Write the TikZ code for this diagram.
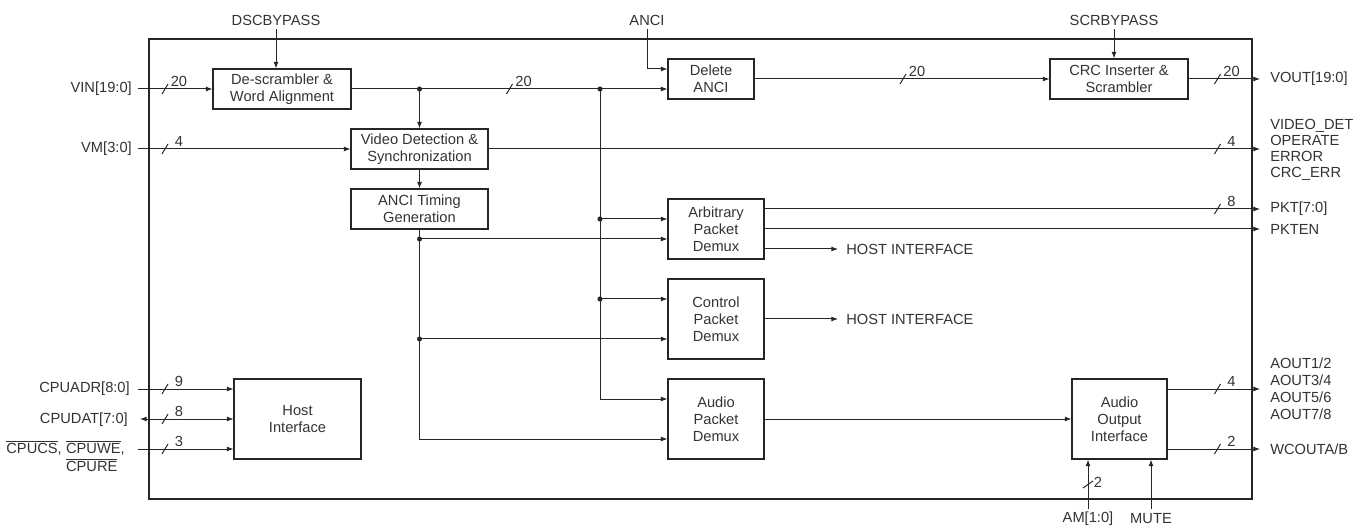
\documentclass[tikz,border=0pt]{standalone}
\usepackage{fontspec}
\setmainfont{Liberation Sans}
\usetikzlibrary{arrows.meta}
\newcommand\busw[4]{%
  \draw[wire] (#1-3,#2+5) -- (#1+3,#2-5);
  \node[lbl] (#4) at (#1+14,#2-8) {#3};}
\begin{document}
\begin{tikzpicture}[x=0.75pt,y=-0.75pt,
  lbl/.style={font=\fontsize{11}{12.75}\selectfont, text=black!80, inner sep=0pt},
  blk/.style 2 args={draw=black!85, line width=0.8pt, lbl, align=center,
    minimum width=#1*0.75pt, minimum height=#2*0.75pt},
  wire/.style={draw=black!85, line width=0.75pt},
  arr/.style={wire, -{Latex[length=5pt,width=3.8pt]}},
  darr/.style={wire, {Latex[length=5pt,width=3.8pt]}-{Latex[length=5pt,width=3.8pt]}},
  dot/.style={circle, fill=black!85, inner sep=0pt, minimum size=3.8pt},
]
\useasboundingbox (0,0) rectangle (1364,527);

% outer chip
\node[draw=black!85, line width=1pt, inner sep=0pt,
  minimum width=1103*0.75pt, minimum height=460*0.75pt] (chip) at (700.5,269) {};

% blocks
\node[blk={138}{40}] (desc) at (282,89) {De-scrambler \&\\Word Alignment};
\node[blk={137}{40}] (vdet) at (419.5,149) {Video Detection \&\\Synchronization};
\node[blk={137}{40}] (anci) at (419.5,209) {ANCI Timing\\Generation};
\node[blk={86}{40}] (del) at (711,79) {Delete\\ANCI};
\node[blk={138}{40}] (crc) at (1119,79) {CRC Inserter \&\\Scrambler};
\node[blk={96}{60}] (arb) at (716,229) {Arbitrary\\Packet\\Demux};
\node[blk={96}{80}] (ctl) at (716,319) {Control\\Packet\\Demux};
\node[blk={96}{80}] (aud) at (716,419) {Audio\\Packet\\Demux};
\node[blk={95}{80}] (aoi) at (1119.5,419) {Audio\\Output\\Interface};
\node[blk={127}{80}] (host) at (297.5,419) {Host\\Interface};

% external coordinates
\coordinate (vin) at (138,89);
\coordinate (vm) at (138,149);
\coordinate (dsc) at (276,29);
\coordinate (anc) at (647,29);
\coordinate (scr) at (1114,29);
\coordinate (vout) at (1260,79);
\coordinate (vdo) at (1260,149);
\coordinate (pkt) at (1260,209);
\coordinate (pkten) at (1260,229);
\coordinate (hi1) at (838,249);
\coordinate (hi2) at (838,319);
\coordinate (aout) at (1260,389);
\coordinate (wc) at (1260,449);
\coordinate (am) at (1088,509);
\coordinate (mute) at (1151,509);
\coordinate (cadr) at (138,389);
\coordinate (cdat) at (140,419);
\coordinate (ccs) at (138,449);

% junctions
\coordinate (j1) at (vdet.north |- desc.east);
\coordinate (j2) at (600,89);
\coordinate (j3) at (600,219);
\coordinate (j4) at (600,299);
\coordinate (k1) at (419.5,239);
\coordinate (k2) at (419.5,339);

% labels
\node[lbl, anchor=east] (vinl) at (132,89) {VIN[19:0]};
\node[lbl, anchor=east] (vml) at (132,149) {VM[3:0]};
\node[lbl] (dscl) at (276,20) {DSCBYPASS};
\node[lbl] (ancl) at (647,20) {ANCI};
\node[lbl] (scrl) at (1114,20) {SCRBYPASS};
\node[lbl, anchor=west] (voutl) at (1270,79) {VOUT[19:0]};
\node[lbl, anchor=west, align=left, font=\fontsize{11}{12}\selectfont] (vdol) at (1270,150) {VIDEO\_DET\\OPERATE\\ERROR\\CRC\_ERR};
\node[lbl, anchor=west] (pktl) at (1270,209) {PKT[7:0]};
\node[lbl, anchor=west] (pktenl) at (1270,229) {PKTEN};
\node[lbl, anchor=west] (hi1l) at (846,249) {HOST INTERFACE};
\node[lbl, anchor=west] (hi2l) at (846,319) {HOST INTERFACE};
\node[lbl, anchor=west, align=left] (aoutl) at (1270,389) {AOUT1/2\\AOUT3/4\\AOUT5/6\\AOUT7/8};
\node[lbl, anchor=west] (wcl) at (1270,449) {WCOUTA/B};
\node[lbl] (aml) at (1088,519) {AM[1:0]};
\node[lbl] (mutel) at (1151,519) {MUTE};
\node[lbl, anchor=east] (cadrl) at (130,389) {CPUADR[8:0]};
\node[lbl, anchor=east] (cdatl) at (128,420) {CPUDAT[7:0]};
\node[lbl, anchor=north east] (ccsl) at (125,440) {\begin{tabular}{@{}l@{\hspace{3.2pt}}l@{}}$\overline{\hbox{CPUCS}}$, & $\overline{\hbox{CPUWE}}$,\\ & $\overline{\hbox{CPURE}}$\end{tabular}};

% connectors
\draw[arr] (vin) -- (desc.west);
\draw[arr] (dsc) -- (dsc |- desc.north);
\draw[arr] (desc.east) -- (desc.east -| del.west);
\draw[arr] (anc) |- ([yshift=7.5pt]del.west);
\draw[arr] (j1) -- (vdet.north);
\draw[arr] (vdet.south) -- (anci.north);
\draw[arr] (del.east) -- (crc.west);
\draw[arr] (scr) -- (scr |- crc.north);
\draw[arr] (crc.east) -- (vout);
\draw[arr] (vm) -- (vdet.west);
\draw[arr] (vdet.east) -- (vdo);
\draw[arr] (j2) |- ([yshift=15pt]aud.west);
\draw[arr] (j3) -- (j3 -| arb.west);
\draw[arr] (j4) -- (j4 -| ctl.west);
\draw[arr] (anci.south) |- ([yshift=-15pt]aud.west);
\draw[arr] (k1) -- (k1 -| arb.west);
\draw[arr] (k2) -- (k2 -| ctl.west);
\draw[arr] ([yshift=15pt]arb.east) -- (pkt);
\draw[arr] (arb.east) -- (pkten);
\draw[arr] ([yshift=-15pt]arb.east) -- (hi1);
\draw[arr] (ctl.east) -- (hi2);
\draw[arr] (aud.east) -- (aoi.west);
\draw[arr] ([yshift=22.5pt]aoi.east) -- (aout);
\draw[arr] ([yshift=-22.5pt]aoi.east) -- (wc);
\draw[arr] (am) -- (am |- aoi.south);
\draw[arr] (mute) -- (mute |- aoi.south);
\draw[arr] (cadr) -- ([yshift=22.5pt]host.west);
\draw[darr] (cdat) -- (host.west);
\draw[arr] (ccs) -- ([yshift=-22.5pt]host.west);

% junction dots
\foreach \j in {j1,j2,j3,j4,k1,k2} \node[dot] (d\j) at (\j) {};

% bus widths
\busw{165}{89}{20}{b1}
\busw{165}{149}{4}{b2}
\busw{509.5}{89}{20}{b3}
\busw{903}{79}{20}{b4}
\busw{1217.5}{79}{20}{b5}
\busw{1217.5}{149}{4}{b6}
\busw{1217.5}{209}{8}{b7}
\busw{1217.5}{389}{4}{b8}
\busw{1217.5}{449}{2}{b9}
\busw{165}{389}{9}{b10}
\busw{165}{419}{8}{b11}
\busw{165}{449}{3}{b12}
\draw[wire] (1083,488) -- (1093,481);
\node[lbl] (b13) at (1098,482) {2};
\end{tikzpicture}
\end{document}
